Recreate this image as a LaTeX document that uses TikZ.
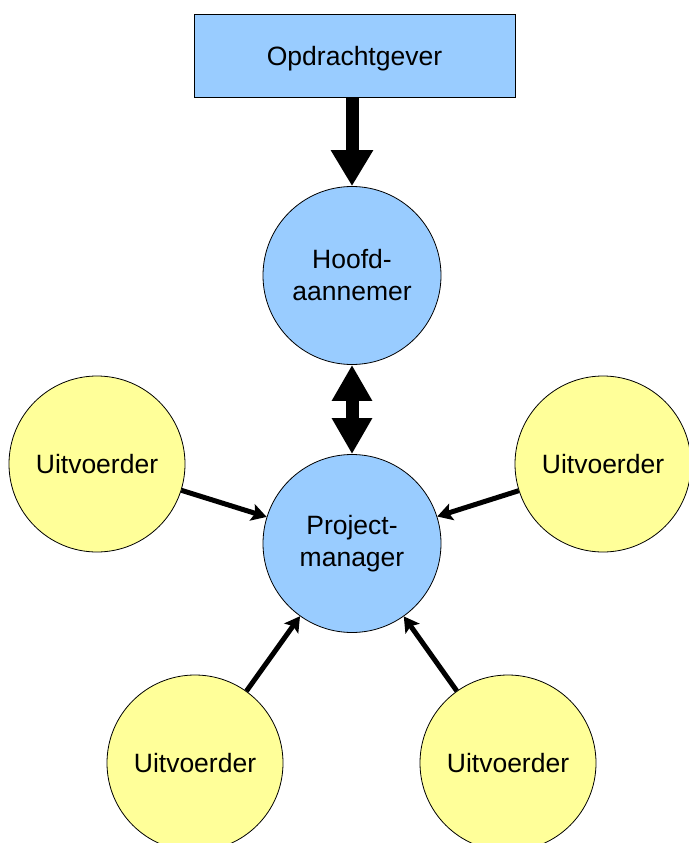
\documentclass[tikz,border=0pt]{standalone}
\usepackage{fontspec}
\setmainfont{Liberation Sans}
\usetikzlibrary{arrows.meta}

\definecolor{partyblue}{HTML}{99CCFF}
\definecolor{partyyellow}{HTML}{FFFF99}

\begin{document}
\begin{tikzpicture}[x=1pt,y=-1pt,
  every node/.style={font=\fontsize{26.5}{32}\selectfont,align=center,inner sep=0pt},
  clientbox/.style={draw,line width=.8pt,fill=partyblue,minimum width=321pt,minimum height=83pt,text depth=0pt},
  leadcircle/.style={draw,circle,line width=.8pt,fill=partyblue,minimum size=178pt},
  sitecircle/.style={draw,circle,line width=.8pt,fill=partyyellow,minimum size=176pt},
  heavy/.style={line width=13pt,-{Triangle[width=40pt,length=36pt]}},
  heavyboth/.style={line width=13pt,{Triangle[width=38pt,length=36pt]}-{Triangle[width=38pt,length=36pt]}},
  report/.style={line width=5pt,-{Stealth[width=17pt,length=15pt,inset=3pt]}}]
\path[use as bounding box] (0,0) rectangle (688,843);

% client and main contractor
\node[clientbox] (client) at (354.5,55.5) {Opdrachtgever};
\node[leadcircle] (main) at (352,275.5) {Hoofd-\\aannemer};
\node[leadcircle] (pm) at (352,543.5) {Project-\\manager};

% site supervisors round the project manager
\node[sitecircle] (westsite) at (97,464) {Uitvoerder};
\node[sitecircle] (eastsite) at (603,464) {Uitvoerder};
\node[sitecircle] (swsite) at (195,763) {Uitvoerder};
\node[sitecircle] (sesite) at (508,763) {Uitvoerder};

\draw[heavy] (client.south -| main.north) -- (main.north);
\draw[heavyboth] (main) -- (pm);

\foreach \s in {westsite,eastsite,swsite,sesite}
  \draw[report] (\s) -- (pm);
\end{tikzpicture}
\end{document}
